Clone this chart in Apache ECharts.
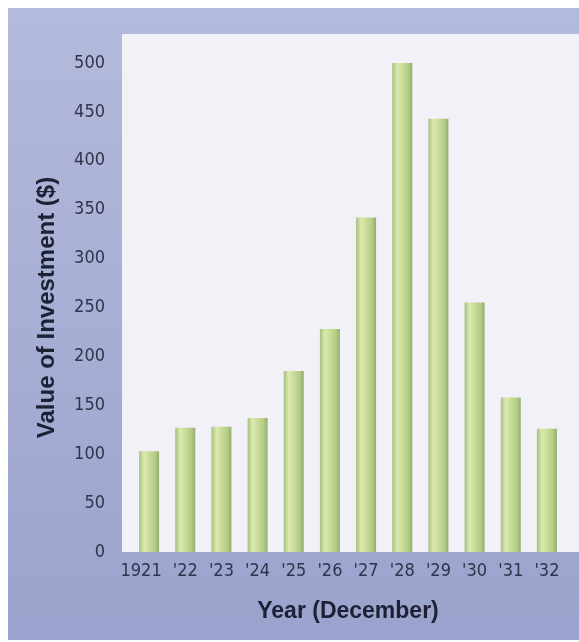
<!DOCTYPE html>
<html>
<head>
<meta charset="utf-8">
<script src="https://cdn.jsdelivr.net/npm/echarts@6/dist/echarts.min.js"></script>
<style>
  html, body { margin: 0; padding: 0; background: #ffffff; }
  #chart { width: 579px; height: 642px; }
</style>
</head>
<body>
<div id="chart"></div>
<script>
// Value of an investment at the end of each December
const years = ['1921', "'22", "'23", "'24", "'25", "'26", "'27", "'28", "'29", "'30", "'31", "'32"];
const values = [103, 127, 128, 137, 185, 228, 342, 500, 443, 255, 158, 126];
const yTicks = [0, 50, 100, 150, 200, 250, 300, 350, 400, 450, 500];

const tickFont = '"DejaVu Sans Condensed", "Liberation Sans Narrow", sans-serif';
const titleFont = '"Liberation Sans", Arial, sans-serif';

const chart = echarts.init(document.getElementById('chart'), null, { renderer: 'canvas' });

// cylinder-like shading for each bar
const barFill = new echarts.graphic.LinearGradient(0, 0, 1, 0, [
  { offset: 0, color: '#a6bf80' },
  { offset: 0.25, color: '#dbeaae' },
  { offset: 0.5, color: '#c9dd98' },
  { offset: 0.8, color: '#b3cc86' },
  { offset: 1, color: '#93ab70' }
]);

chart.setOption({
  backgroundColor: '#ffffff',
  animation: false,
  graphic: [
    {
      type: 'rect', z: -10, silent: true,
      shape: { x: 8, y: 8, width: 571, height: 632 },
      style: {
        fill: new echarts.graphic.LinearGradient(0, 0, 0, 1, [
          { offset: 0, color: '#b4badb' },
          { offset: 1, color: '#9aa3cd' }
        ])
      }
    },
    {
      type: 'rect', z: -9, silent: true,
      shape: { x: 122, y: 34, width: 457, height: 518 },
      style: { fill: '#f2f1f8' }
    }
  ],
  grid: { left: 131, right: 14, top: 63, bottom: 90 },
  xAxis: {
    type: 'category',
    data: years.map((y, i) => i === 0 ? { value: y, textStyle: { padding: [0, 16, 0, 0] } } : y),
    axisLine: { show: false },
    axisTick: { show: false },
    axisLabel: {
      interval: 0,
      margin: 10,
      fontFamily: tickFont,
      fontSize: 18,
      color: '#2f344a'
    },
    name: 'Year (December)',
    nameLocation: 'middle',
    nameGap: 48,
    nameTextStyle: {
      fontFamily: titleFont,
      fontWeight: 'bold',
      fontSize: 23,
      color: '#1e2134'
    }
  },
  yAxis: {
    type: 'value',
    min: 0,
    max: 500,
    interval: 50,
    axisLine: { show: false },
    axisTick: { show: false },
    splitLine: { show: false },
    axisLabel: {
      margin: 26,
      fontFamily: tickFont,
      fontSize: 18,
      color: '#2f344a',
      formatter: v => yTicks.includes(v) ? String(v) : ''
    },
    name: 'Value of Investment ($)',
    nameLocation: 'middle',
    nameGap: 72,
    nameTextStyle: {
      fontFamily: titleFont,
      fontWeight: 'bold',
      fontSize: 24,
      color: '#1e2134'
    }
  },
  series: [{
    type: 'bar',
    data: values,
    barWidth: 20,
    itemStyle: { color: barFill }
  }]
});
</script>
</body>
</html>
